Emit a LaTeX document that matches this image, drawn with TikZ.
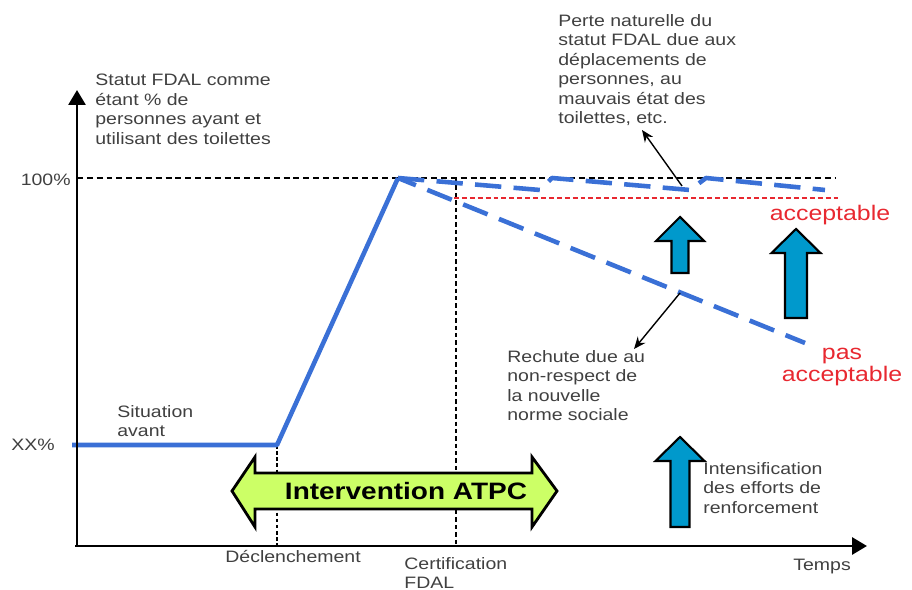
\documentclass[tikz,border=0pt]{standalone}
\usepackage{fontspec}
\setmainfont{Liberation Sans}[FakeStretch=1.18]
\usepackage{xcolor}
\usepackage{tikz}
\usetikzlibrary{arrows.meta,positioning}
\definecolor{bleuligne}{RGB}{58,112,214}
\definecolor{bleurenfort}{RGB}{0,153,204}
\definecolor{vertclair}{RGB}{204,255,102}
\definecolor{rougetexte}{RGB}{232,40,48}
\definecolor{gristexte}{RGB}{64,64,64}
\tikzset{
  texte/.style={font=\fontsize{9.4}{11.1}\selectfont,text=gristexte,align=left,
    inner sep=0pt,anchor=north west},
  etiquette/.style={font=\fontsize{9.4}{11.1}\selectfont,text=gristexte,inner sep=0pt},
  seuil/.style={font=\fontsize{12}{13}\selectfont,text=rougetexte,align=center,inner sep=0pt},
  axe/.style={line width=1.6pt,-{Triangle[length=3mm,width=3.4mm]}},
  courbe/.style={line width=2.6pt,bleuligne,line join=round},
  courbetir/.style={courbe,dash pattern=on 15pt off 7pt},
  repere/.style={line width=1.1pt,dash pattern=on 3.4pt off 2.2pt},
  fleche/.style={-{Stealth[length=2.4mm,width=2mm]},line width=0.8pt},
  renfort/.style={draw=black,fill=bleurenfort,line width=1.2pt,line join=miter}
}

\begin{document}
\begin{tikzpicture}[x=0.02cm,y=-0.02cm]
\useasboundingbox (0,0) rectangle (912,590);
% reperes
\coordinate (O) at (77,546);
\coordinate (Yhaut) at (77,90);
\coordinate (Xfin) at (867,546);
\coordinate (depart) at (72,445);
\coordinate (declic) at (277,445);
\coordinate (declicbas) at (277,546);
\coordinate (sommet) at (398,178);
\coordinate (cent) at (77,178);
\coordinate (centfin) at (835,178);
\coordinate (certif) at (456,178);
\coordinate (certifbas) at (456,546);
\coordinate (rouge1) at (454,198);
\coordinate (rouge2) at (838,198);
\coordinate (chute) at (805,343);
\coordinate (creux) at (682,186);
\coordinate (bout1) at (642,130);
\coordinate (rechutept) at (680,293);
\coordinate (bout2) at (634,349);

% lignes de repere
\draw[repere] (cent) -- (centfin);
\draw[line width=1.4pt,dash pattern=on 2.5pt off 1.7pt] (certif) -- (certifbas);
\draw[line width=0.6pt,dash pattern=on 2pt off 1.5pt] (declic) -- (declicbas);
\draw[rougetexte,line width=1pt,dash pattern=on 2.8pt off 1.7pt] (rouge1) -- (rouge2);

% courbes
\draw[courbe] (depart) -- (declic) -- (sommet);
\draw[courbetir] (sommet) -- (540,190) -- (552,178) -- (690,190) -- (706,178) -- (825,190);
\draw[courbetir,dash phase=4pt] (sommet) -- (chute);

% fleches de renforcement
\foreach \x/\yt/\yb/\hw/\sw in {680/217/273/24/8.5, 796/229/318/24.5/11, 680/437/527/24.5/9.5}
  \draw[renfort] (\x-\sw,\yb) -- (\x-\sw,\yt+24) -- (\x-\hw,\yt+24) -- (\x,\yt)
    -- (\x+\hw,\yt+24) -- (\x+\sw,\yt+24) -- (\x+\sw,\yb) -- cycle;

% intervention
\draw[fill=vertclair,line width=1.6pt,line join=miter] (232,491) -- (255,457) -- (255,473)
  -- (532,473) -- (532,457) -- (557,491) -- (532,527) -- (532,509) -- (255,509)
  -- (255,527) -- cycle;
\node[font=\fontsize{13.5}{14}\selectfont\bfseries] (interv) at (406,491) {Intervention ATPC};

% axes
\draw[axe] (O) -- (Yhaut);
\draw[axe] ([xshift=-1pt]O) -- (Xfin);

% textes
\node[texte] (statut) at (95,74) {Statut FDAL comme\\étant \% de\\personnes ayant et\\utilisant des toilettes};
\node[etiquette,anchor=east] (centlab) at (71,180) {100\%};
\node[etiquette,anchor=east] (xx) at (55,445) {XX\%};
\node[texte] (situation) at (117,405) {Situation\\avant};
\node[etiquette,anchor=west] (declench) at (225,557) {Déclenchement};
\node[texte] (certiflab) at (404,557) {Certification\\FDAL};
\node[etiquette,anchor=west] (temps) at (793,567) {Temps};
\node[texte] (perte) at (558,14) {Perte naturelle du\\statut FDAL due aux\\déplacements de\\personnes, au\\mauvais état des\\toilettes, etc.};
\node[texte] (rechute) at (507,350) {Rechute due au\\non-respect de\\la nouvelle\\norme sociale};
\node[texte] (intensif) at (703,462) {Intensification\\des efforts de\\renforcement};
\node[seuil] (accept) at (830,215) {acceptable};
\node[seuil] (pasaccept) at (842,367) {pas\\acceptable};

% annotations
\draw[fleche] (creux) -- (bout1);
\draw[fleche] (rechutept) -- (bout2);
\end{tikzpicture}
\end{document}
